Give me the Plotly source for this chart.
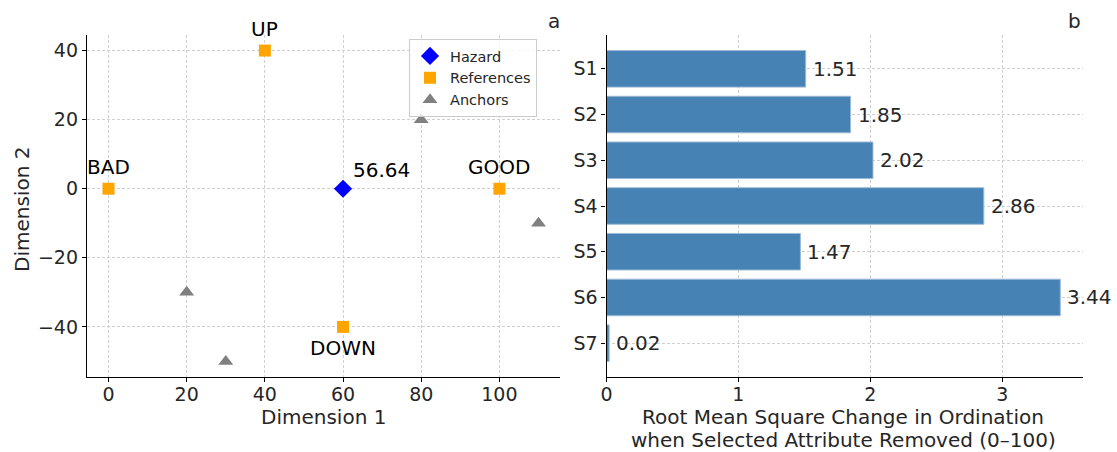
import plotly.graph_objects as go

# Panel a: ordination coordinates
hazard_x = [60]
hazard_y = [0]
hazard_label = "56.64"

ref_names = ["BAD", "GOOD", "UP", "DOWN"]
ref_x = [0, 100, 40, 60]
ref_y = [0, 0, 40, -40]

anchor_x = [20, 30, 80, 110]
anchor_y = [-30, -50, 20, -10]

# Panel b: RMS change per removed attribute
attributes = ["S1", "S2", "S3", "S4", "S5", "S6", "S7"]
rms_change = [1.51, 1.85, 2.02, 2.86, 1.47, 3.44, 0.02]

FONT = "DejaVu Sans, Verdana, sans-serif"
TXT = "#262626"
GRID = "#d0d0d0"
W, H = 1117, 452

def px(x):
    return x / W

def py(y):
    return (H - y) / H

fig = go.Figure()

fig.add_trace(go.Scatter(
    x=hazard_x, y=hazard_y, mode="markers", name="Hazard",
    marker=dict(symbol="diamond", size=14, color="#0000FF"),
    xaxis="x", yaxis="y", cliponaxis=False))
fig.add_trace(go.Scatter(
    x=ref_x, y=ref_y, mode="markers", name="References",
    marker=dict(symbol="square", size=12, color="#FFA500"),
    xaxis="x", yaxis="y", cliponaxis=False))
fig.add_trace(go.Scatter(
    x=anchor_x, y=anchor_y, mode="markers", name="Anchors",
    marker=dict(symbol="triangle-up", size=13, color="#808080"),
    xaxis="x", yaxis="y", cliponaxis=False))

fig.add_trace(go.Bar(
    x=rms_change, y=attributes, orientation="h", width=0.8,
    marker=dict(color="#4682B4", line=dict(color="#9dbbd6", width=1)),
    showlegend=False, xaxis="x2", yaxis="y2"))

annotations = []
# Reference labels above / below their markers
for name, x, y in zip(ref_names, ref_x, ref_y):
    shift = -21 if name == "DOWN" else 22
    annotations.append(dict(x=x, y=y, xref="x", yref="y", text=name,
                            showarrow=False, yshift=shift, xanchor="center",
                            yanchor="middle", font=dict(size=20, color="black")))
annotations.append(dict(x=hazard_x[0], y=hazard_y[0], xref="x", yref="y",
                        text=hazard_label, showarrow=False, xshift=8, yshift=19,
                        xanchor="left", yanchor="middle",
                        font=dict(size=20, color="black")))

# Bar value labels
for name, v in zip(attributes, rms_change):
    annotations.append(dict(x=v, y=name, xref="x2", yref="y2", text=f"{v:.2f}",
                            showarrow=False, xshift=5, xanchor="left",
                            yanchor="middle", font=dict(size=20, color=TXT)))

# Axis titles and panel tags
annotations += [
    dict(x=px(323), y=py(417), xref="paper", yref="paper", text="Dimension 1",
         showarrow=False, xanchor="center", yanchor="middle",
         font=dict(size=20, color=TXT)),
    dict(x=px(22), y=py(210), xref="paper", yref="paper", text="Dimension 2",
         showarrow=False, textangle=-90, xanchor="center", yanchor="middle",
         font=dict(size=20, color=TXT)),
    dict(x=px(843), y=py(417), xref="paper", yref="paper",
         text="Root Mean Square Change in Ordination",
         showarrow=False, xanchor="center", yanchor="middle",
         font=dict(size=20, color=TXT)),
    dict(x=px(843), y=py(440), xref="paper", yref="paper",
         text="when Selected Attribute Removed (0\u2013100)",
         showarrow=False, xanchor="center", yanchor="middle",
         font=dict(size=20, color=TXT)),
    dict(x=px(562), y=py(21), xref="paper", yref="paper", text="a",
         showarrow=False, xanchor="right", yanchor="middle",
         font=dict(size=20, color=TXT)),
    dict(x=px(1083), y=py(21), xref="paper", yref="paper", text="b",
         showarrow=False, xanchor="right", yanchor="middle",
         font=dict(size=20, color=TXT)),
]

axis_common = dict(
    showline=True, linecolor="black", linewidth=1.3, mirror=False,
    ticks="outside", ticklen=4, tickwidth=1, tickcolor="black",
    showgrid=True, gridcolor=GRID, griddash="3px,2px", gridwidth=0.8,
    zeroline=False, tickfont=dict(size=19, color=TXT), automargin=False,
)

ydom = [py(377), py(35)]

fig.update_layout(
    width=W, height=H,
    margin=dict(l=0, r=0, t=0, b=0, autoexpand=False),
    paper_bgcolor="white", plot_bgcolor="white",
    font=dict(family=FONT, color=TXT),
    xaxis=dict(domain=[px(87), px(560)], range=[-5.5, 115.5],
               tickvals=[0, 20, 40, 60, 80, 100], anchor="y",
               ticklabelstandoff=-4, **axis_common),
    yaxis=dict(domain=ydom, range=[-54.5, 44.5],
               tickvals=[-40, -20, 0, 20, 40], anchor="x", **axis_common),
    xaxis2=dict(domain=[px(606.5), px(1083)], range=[0, 3.612],
                tickvals=[0, 1, 2, 3], anchor="y2",
                ticklabelstandoff=-4, **axis_common),
    yaxis2=dict(domain=ydom, range=[6.74, -0.74], anchor="x2", type="category",
                categoryorder="array", categoryarray=attributes,
                **axis_common),
    legend=dict(x=px(409), y=py(39), xanchor="left", yanchor="top",
                bgcolor="rgba(255,255,255,0.8)", bordercolor="#cccccc",
                borderwidth=1, font=dict(size=14.5, color=TXT),
                itemwidth=30, entrywidth=112),
    annotations=annotations,
    showlegend=True,
)

fig.write_html("out.html")
